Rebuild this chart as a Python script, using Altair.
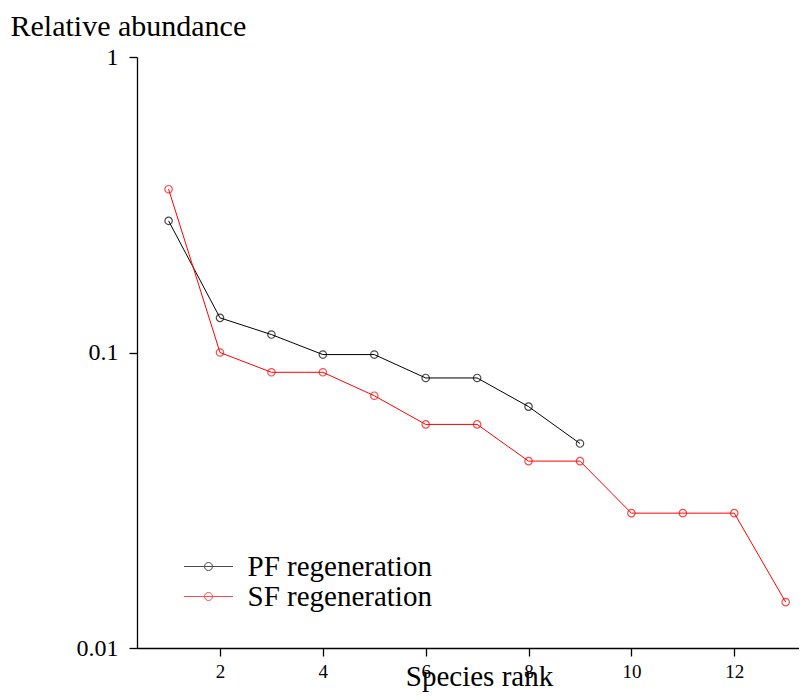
import altair as alt
import pandas as pd

# Data
pf_rank = [1, 2, 3, 4, 5, 6, 7, 8, 9]
pf_abund = [0.279, 0.131, 0.115, 0.0984, 0.0984, 0.082, 0.082, 0.0656, 0.0492]
sf_rank = [1, 2, 3, 4, 5, 6, 7, 8, 9, 10, 11, 12, 13]
sf_abund = [0.357, 0.100, 0.0857, 0.0857, 0.0714, 0.0571, 0.0571, 0.0429, 0.0429,
            0.0286, 0.0286, 0.0286, 0.0143]
series = ["PF regeneration", "SF regeneration"]
colors = ["#000000", "#ff0000"]
x_ticks = [2, 4, 6, 8, 10, 12]
y_ticks = [0.01, 0.1, 1]

df = pd.concat([
    pd.DataFrame({"rank": pf_rank, "abund": pf_abund, "series": series[0]}),
    pd.DataFrame({"rank": sf_rank, "abund": sf_abund, "series": series[1]}),
])

FONT = "Liberation Serif"

legend = alt.Legend(
    title=None, orient="none", legendX=57, legendY=495,
    symbolType="M-4.9,0H4.9M-0.8,0A0.8,0.8,0,1,0,0.8,0A0.8,0.8,0,1,0,-0.8,0",
    symbolSize=100, symbolStrokeWidth=1, symbolFillColor="transparent",
    labelFont=FONT, labelFontSize=29, labelColor="black", labelOffset=24.5,
    labelLimit=400, rowPadding=-2, padding=0,
)

x = alt.X("rank:Q",
          scale=alt.Scale(domain=[0.386, 13.259], nice=False, zero=False),
          axis=alt.Axis(values=x_ticks, title="Species rank", titleFont=FONT,
                        titleFontSize=29, titleFontWeight="normal", titleColor="black",
                        titleX=342, titleY=37, titleBaseline="alphabetic",
                        labelFont=FONT, labelFontSize=19, labelColor="black",
                        labelPadding=6, tickSize=8, grid=False,
                        domainColor="black", tickColor="black",
                        domainWidth=1.3, tickWidth=1.3))
y = alt.Y("abund:Q",
          scale=alt.Scale(type="log", domain=[0.01, 1], nice=False),
          axis=alt.Axis(values=y_ticks, format="~g", title="Relative abundance",
                        titleFont=FONT, titleFontSize=30, titleFontWeight="normal",
                        titleColor="black", titleAngle=0, titleAlign="left",
                        titleBaseline="alphabetic", titleX=-127, titleY=-22,
                        labelFont=FONT, labelFontSize=24, labelColor="black",
                        labelPadding=11, tickSize=8, grid=False,
                        domainColor="black", tickColor="black",
                        domainWidth=1.3, tickWidth=1.3))
color = alt.Color("series:N", scale=alt.Scale(domain=series, range=colors), legend=legend)

lines = alt.Chart(df).mark_line(strokeWidth=1).encode(x=x, y=y, color=color, detail="series:N")
points = alt.Chart(df).mark_point(shape="circle", filled=False, size=55, strokeWidth=1.2).encode(
    x=x, y=y, color=color)

chart = alt.layer(lines, points).properties(
    width=662, height=591,
    autosize=alt.AutoSizeParams(type="none"),
    padding={"left": 129, "top": 49, "right": 0, "bottom": 44},
    background="white",
).configure_view(stroke=None)

chart.save("out.html", embed_options={"renderer": "svg", "actions": False})
